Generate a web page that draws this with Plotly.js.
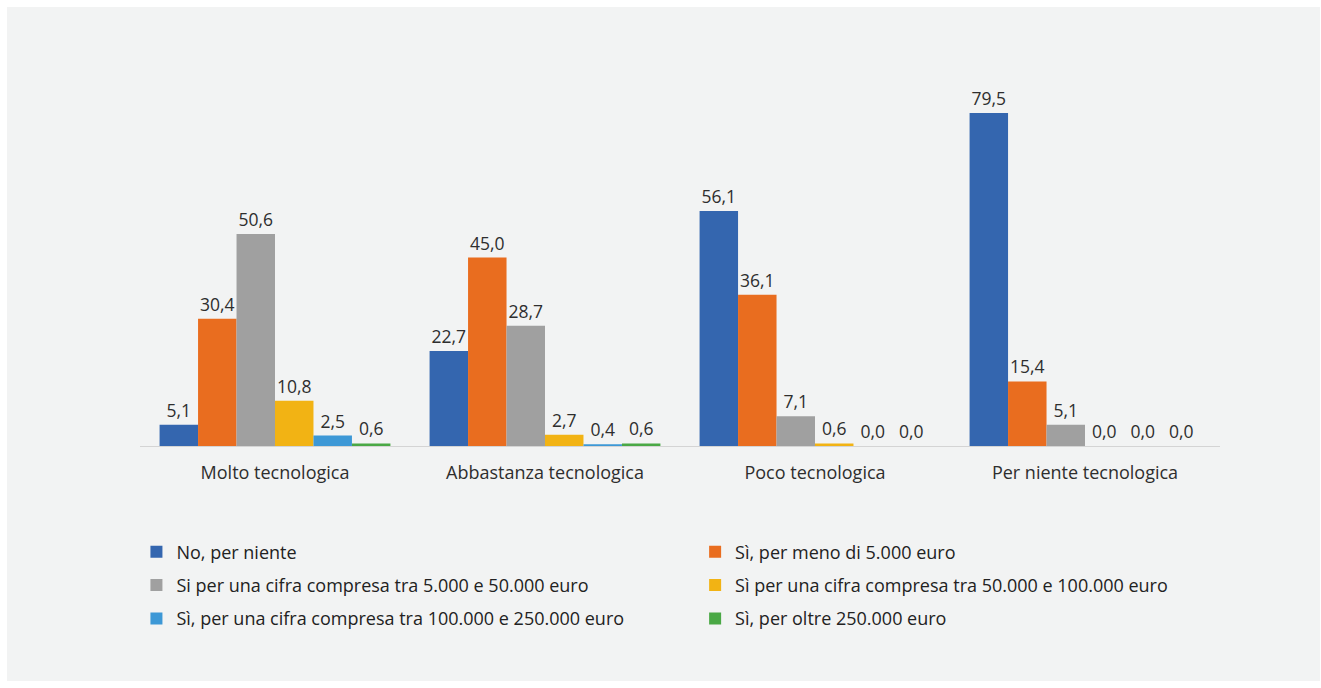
<!DOCTYPE html>
<html>
<head>
<meta charset="utf-8">
<script src="https://cdn.plot.ly/plotly-3.0.1.min.js"></script>
<style>
  html, body { margin: 0; padding: 0; background: #ffffff; width: 1321px; height: 688px; overflow: hidden; }
  #chart { position: absolute; left: 7px; top: 7px; width: 1313px; height: 674px; }
</style>
</head>
<body>
<div id="chart"></div>
<script>
const categories = ["Molto tecnologica", "Abbastanza tecnologica", "Poco tecnologica", "Per niente tecnologica"];
const seriesNames = [
  "No, per niente",
  "Sì, per meno di 5.000 euro",
  "Si per una cifra compresa tra 5.000 e 50.000 euro",
  "Sì per una cifra compresa tra 50.000 e 100.000 euro",
  "Sì, per una cifra compresa tra 100.000 e 250.000 euro",
  "Sì, per oltre 250.000 euro"
];
const noPerNiente   = [5.1, 22.7, 56.1, 79.5];
const menoDi5000    = [30.4, 45.0, 36.1, 15.4];
const tra5e50       = [50.6, 28.7, 7.1, 5.1];
const tra50e100     = [10.8, 2.7, 0.6, 0.0];
const tra100e250    = [2.5, 0.4, 0.0, 0.0];
const oltre250      = [0.6, 0.6, 0.0, 0.0];

const seriesValues = [noPerNiente, menoDi5000, tra5e50, tra50e100, tra100e250, oltre250];
const colors = ["#3466af", "#e96d1f", "#a0a0a0", "#f2b314", "#3d98d6", "#4aa845"];

const fmt = v => v.toFixed(1).replace(".", ",");
const FONT = "'Open Sans', Lato, sans-serif";

const traces = seriesValues.map((vals, i) => ({
  type: "bar",
  name: seriesNames[i],
  x: categories,
  y: vals,
  text: vals.map(fmt),
  textposition: "outside",
  cliponaxis: false,
  textfont: { family: FONT, size: 17.5, color: "#2e2e2e" },
  marker: { color: colors[i], line: { width: 0 } },
  legend: (i % 2 === 0) ? "legend" : "legend2",
  legendgroup: "g" + i,
  hoverinfo: "skip"
}));

const legendFont = { family: FONT, size: 18, color: "#222222" };

const layout = {
  width: 1313,
  height: 674,
  margin: { l: 133, r: 100, t: 62, b: 235 },
  paper_bgcolor: "#f2f3f3",
  plot_bgcolor: "#f2f3f3",
  barmode: "group",
  bargap: 0.145,
  bargroupgap: 0,
  showlegend: true,
  xaxis: {
    type: "category",
    showline: true,
    linecolor: "#d4d4d4",
    linewidth: 1,
    ticks: "",
    ticklabelstandoff: 10,
    tickfont: { family: FONT, size: 18, color: "#2e2e2e" },
    showgrid: false,
    zeroline: false
  },
  yaxis: {
    range: [0, 90],
    visible: false,
    showgrid: false,
    zeroline: false
  },
  legend: {
    x: -0.0033,
    xanchor: "left",
    y: -0.232,
    yanchor: "top",
    orientation: "v",
    bgcolor: "rgba(0,0,0,0)",
    font: legendFont,
    tracegroupgap: 7,
    itemwidth: 30
  },
  legend2: {
    x: 0.514,
    xanchor: "left",
    y: -0.232,
    yanchor: "top",
    orientation: "v",
    bgcolor: "rgba(0,0,0,0)",
    font: legendFont,
    tracegroupgap: 7,
    itemwidth: 30
  }
};

Plotly.newPlot("chart", traces, layout, { displayModeBar: false, staticPlot: true });
</script>
</body>
</html>
